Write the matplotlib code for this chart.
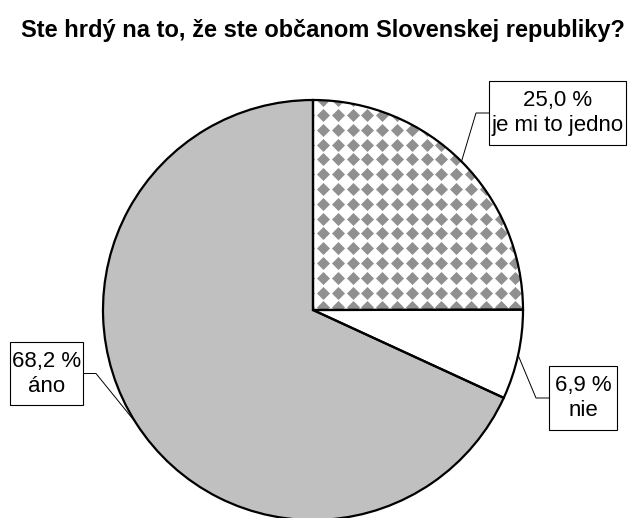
import numpy as np
import matplotlib
matplotlib.use("Agg")
import matplotlib.pyplot as plt
from matplotlib.patches import Rectangle

plt.rcParams['font.family'] = ['Liberation Sans', 'DejaVu Sans']

title = "Ste hrdý na to, že ste občanom Slovenskej republiky?"
labels = ["je mi to jedno", "nie", "áno"]
values = [25.0, 6.9, 68.2]
value_text = ["25,0 %", "6,9 %", "68,2 %"]
fills = ["white", "white", "#c0c0c0"]

W, H = 632, 518
fig = plt.figure(figsize=(W / 100, H / 100), dpi=100)
ax = fig.add_axes([0, 0, 1, 1])

cx, cy, r = 313, H - 310, 210

# fill first, then pattern, then outlines on top
wedges, _ = ax.pie(values, colors=fills, startangle=90, counterclock=False,
                   center=(cx, cy), radius=r, frame=True,
                   wedgeprops=dict(linewidth=0))

# diamond pattern for the first slice
step = 14.8
gx = np.arange(cx + 10 - step * 20, cx + r + step, step)
gy = np.arange(H - 115 + step * 2, cy - r - step, -step)
xx, yy = np.meshgrid(gx, gy)
pts = ax.scatter(xx.ravel(), yy.ravel(), marker='D', s=44, color='#909090',
                 linewidths=0, zorder=2)
pts.set_clip_path(wedges[0])

ax.pie(values, startangle=90, counterclock=False, center=(cx, cy), radius=r,
       frame=True, wedgeprops=dict(fill=False, edgecolor='black',
                                   linewidth=1.6, zorder=3))

ax.set_xlim(0, W)
ax.set_ylim(0, H)
ax.set_aspect('equal')
ax.axis('off')

# label boxes: (left, top, right, bottom) in pixels from top-left
boxes = [(489, 81, 626, 145), (549, 366, 617, 430), (10, 342, 83, 405)]
sides = [1, 1, -1]

cum = np.cumsum(values)
for i, (l, t, rr, b) in enumerate(boxes):
    mid = np.deg2rad(90 - (cum[i] - values[i] / 2) * 3.6)
    ex, ey = cx + r * np.cos(mid), cy + r * np.sin(mid)
    bx = l if sides[i] == 1 else rr
    by = H - (t + b) / 2
    elbow = bx - 13 * sides[i]
    ax.plot([ex, elbow, bx], [ey, by, by], color='black', lw=0.7, zorder=4)
    ax.add_patch(Rectangle((l, H - b), rr - l, b - t, facecolor='white',
                           edgecolor='black', lw=0.8, zorder=5))
    ax.text((l + rr) / 2, by, value_text[i] + "\n" + labels[i], ha='center',
            va='center', fontsize=16, linespacing=1.25, zorder=6)

fig.text(323 / W, 1 - 37 / H, title, ha='center', va='baseline',
         fontsize=17, fontweight='bold')

fig.savefig("out.png", dpi=100)
